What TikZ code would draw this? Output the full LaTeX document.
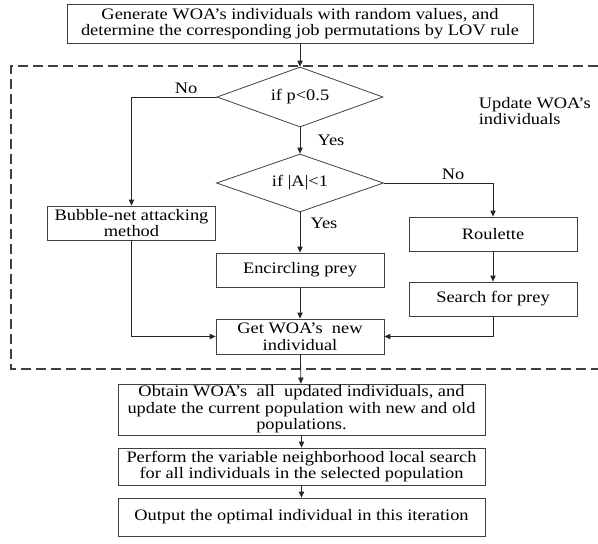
\documentclass[tikz,border=0pt]{standalone}
\usepackage{fontspec}
\setmainfont[FakeStretch=1.15]{Liberation Serif}
\usetikzlibrary{shapes.geometric,arrows.meta}

\begin{document}
\begin{tikzpicture}[x=0.75pt,y=0.75pt,yscale=-1,xscale=1,
    txt/.style={font=\fontsize{12}{12.4}\selectfont},
    box/.style={txt, draw=black!75, line width=0.6pt, inner sep=0pt, align=center},
    widebox/.style={box, minimum width=275.25pt},
    smallbox/.style={box, minimum width=126pt, minimum height=25.5pt},
    decide/.style={txt, diamond, draw=black!75, line width=0.6pt, inner sep=0pt, aspect=2.8},
    flow/.style={draw=black!85, line width=0.6pt, -{Triangle[length=4.5pt,width=4pt]}},
    lbl/.style={txt, inner sep=0.75pt}]
\useasboundingbox (0,0) rectangle (598,543);

%Dashed frame (open on the right)
\draw [black!75, line width=0.9pt, dash pattern=on 7.5pt off 3.75pt] (598,66) -- (11,66) -- (11,369) -- (598,369);

%Shape: Rectangle
\node [box, minimum width=349.5pt, minimum height=29.25pt] (init) at (300,23.5) {Generate WOA’s individuals with random values, and\\determine the corresponding job permutations by LOV rule};
%Shape: Diamond
\node [decide, minimum width=124.5pt, minimum height=45pt] (ifp) at (300,97) {if p<0.5};
\node [decide, minimum width=125.25pt, minimum height=43.5pt] (ifa) at (300,183) {if |A|<1};
%Shape: Rectangle
\node [smallbox] (bubble) at (131.5,223) {Bubble-net attacking\\method};
\node [smallbox] (roulette) at (493,234) {Roulette};
\node [smallbox] (encircle) at (300,270) {Encircling prey};
\node [smallbox] (search) at (493,299) {Search for prey};
\node [box, minimum width=126pt, minimum height=26.25pt] (getnew) at (300,336.5) {Get WOA’s~ new\\individual};
\node [widebox, minimum height=38.25pt] (obtain) at (301.5,409.5) {Obtain WOA’s~ all~ updated individuals, and\\update the current population with new and old\\populations.};
\node [widebox, minimum height=27.75pt] (vns) at (301.5,466.5) {Perform the variable neighborhood local search\\for all individuals in the selected population};
\node [widebox, minimum height=28.5pt] (output) at (301.5,517) {Output the optimal individual in this iteration};

% Text Node
\node [lbl, align=left, anchor=east] (update) at (592,111) {Update WOA’s\\individuals};
\node [lbl] (no1) at (186,88) {No};
\node [lbl] (yes1) at (331,140) {Yes};
\node [lbl] (no2) at (453,174) {No};
\node [lbl] (yes2) at (324,223) {Yes};

%Straight Lines
\draw [flow] (init) -- (ifp);
\draw [flow] (ifp.west) -| (bubble.north);
\draw [flow] (ifp) -- (ifa);
\draw [flow] (ifa.east) -| (roulette.north);
\draw [flow] (ifa) -- (encircle);
\draw [flow] (roulette) -- (search);
\draw [flow] (encircle) -- (getnew);
\draw [flow] (bubble.south) |- (getnew.west);
\draw [flow] (search.south) |- (getnew.east);
\draw [flow] (getnew) -- (obtain);
\draw [flow] (obtain) -- (vns);
\draw [flow] (vns) -- (output);

\end{tikzpicture}
\end{document}
